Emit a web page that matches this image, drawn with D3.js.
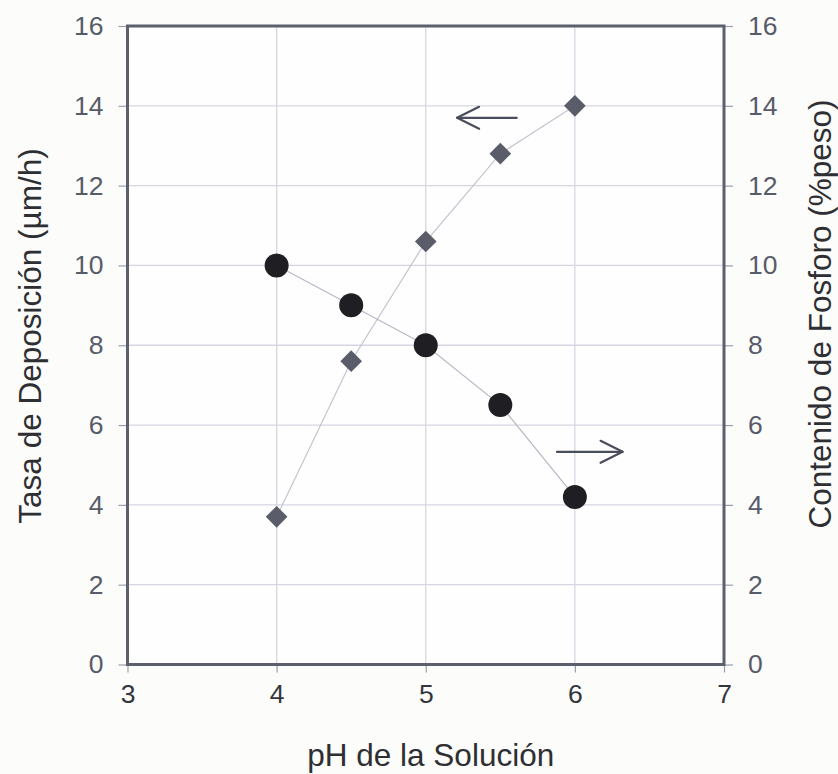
<!DOCTYPE html>
<html><head><meta charset="utf-8">
<script src="https://cdn.jsdelivr.net/npm/d3@7"></script>
<style>
html,body{margin:0;padding:0;background:#fcfcfa;}
svg{display:block;font-family:"Liberation Sans",Arial,Helvetica,sans-serif;}
</style></head>
<body><svg id="chart" width="838" height="774"></svg>
<script>
// ---- data ----
const pH = [4, 4.5, 5, 5.5, 6];
const tasaDeposicion = [3.7, 7.6, 10.6, 12.8, 14.0];      // left axis (diamonds)
const contenidoFosforo = [10.0, 9.0, 8.0, 6.5, 4.2];     // right axis (circles)
const xTicks = [3, 4, 5, 6, 7];
const yTicks = [0, 2, 4, 6, 8, 10, 12, 14, 16];
const xLabel = "pH de la Solución";
const yLeftLabel = "Tasa de Deposición (µm/h)";
const yRightLabel = "Contenido de Fosforo (%peso)";
// arrow annotations [x1, x2, y] in data units (x1 = tail, x2 = head)
const arrowLeft = [5.61, 5.21, 13.7];
const arrowRight = [5.88, 6.32, 5.33];

// ---- layout ----
const W = 838, H = 774;
const m = {left: 127.5, right: 114, top: 26, bottom: 109.5};
const svg = d3.select("#chart");
const x = d3.scaleLinear().domain([3, 7]).range([m.left, W - m.right]);
const yL = d3.scaleLinear().domain([0, 16]).range([H - m.bottom, m.top]);
const yR = d3.scaleLinear().domain([0, 16]).range([H - m.bottom, m.top]);

const gridColor = "#d6d6e2";
const frameColor = "#5c5f6c";
const tickTextColor = "#585b69";

// plot background
svg.append("rect").attr("x", x(3)).attr("y", yL(16))
  .attr("width", x(7) - x(3)).attr("height", yL(0) - yL(16)).attr("fill", "#fefefe");

// grid
const g = svg.append("g");
g.selectAll("line.h").data(yTicks.slice(1, -1)).join("line")
  .attr("x1", x(3)).attr("x2", x(7)).attr("y1", d => yL(d)).attr("y2", d => yL(d))
  .attr("stroke", gridColor).attr("stroke-width", 1.3);
g.selectAll("line.v").data(xTicks.slice(1, -1)).join("line")
  .attr("y1", yL(0)).attr("y2", yL(16)).attr("x1", d => x(d)).attr("x2", d => x(d))
  .attr("stroke", gridColor).attr("stroke-width", 1.3);

// axes
function styleAxis(sel) {
  sel.select(".domain").remove();
  sel.selectAll(".tick line").attr("stroke", "#9c9eae").attr("stroke-width", 1.2);
  sel.selectAll(".tick text").attr("fill", tickTextColor).attr("font-size", 26.5)
    .attr("font-family", '"Liberation Sans",Arial,sans-serif');
}
svg.append("g").attr("transform", `translate(${x(3)},0)`)
  .call(d3.axisLeft(yL).tickValues(yTicks).tickSize(9).tickPadding(15).tickFormat(d3.format("d")))
  .call(styleAxis);
svg.append("g").attr("transform", `translate(${x(7)},0)`)
  .call(d3.axisRight(yR).tickValues(yTicks).tickSize(9).tickPadding(15).tickFormat(d3.format("d")))
  .call(styleAxis);
const xa = svg.append("g").attr("transform", `translate(0,${yL(0)})`)
  .call(d3.axisBottom(x).tickValues(xTicks).tickSize(8).tickPadding(11).tickFormat(d3.format("d")))
  .call(styleAxis);
xa.selectAll(".tick text").attr("fill", "#34363d").attr("dy", "0.74em");

// frame
svg.append("rect").attr("x", x(3)).attr("y", yL(16))
  .attr("width", x(7) - x(3)).attr("height", yL(0) - yL(16))
  .attr("fill", "none").attr("stroke", frameColor).attr("stroke-width", 3);

// series lines
const lineL = d3.line().x((d, i) => x(pH[i])).y(d => yL(d));
const lineR = d3.line().x((d, i) => x(pH[i])).y(d => yR(d));
svg.append("path").attr("d", lineL(tasaDeposicion)).attr("fill", "none")
  .attr("stroke", "#c4c4d0").attr("stroke-width", 1.2);
svg.append("path").attr("d", lineR(contenidoFosforo)).attr("fill", "none")
  .attr("stroke", "#b8b8c6").attr("stroke-width", 1.2);

// diamonds
const diamond = d3.symbol().type(d3.symbolSquare).size(235);
svg.selectAll("path.dia").data(tasaDeposicion).join("path")
  .attr("d", diamond)
  .attr("transform", (d, i) => `translate(${x(pH[i])},${yL(d)}) rotate(45)`)
  .attr("fill", "#5a5d69");

// circles
svg.selectAll("circle.pt").data(contenidoFosforo).join("circle")
  .attr("cx", (d, i) => x(pH[i])).attr("cy", d => yR(d)).attr("r", 12)
  .attr("fill", "#1f1f23");

// arrows
function arrow(a) {
  const x1 = x(a[0]), x2 = x(a[1]), yy = yL(a[2]);
  const dir = Math.sign(x2 - x1);
  const grp = svg.append("g").attr("stroke", "#4a4d5a").attr("stroke-width", 2.2)
    .attr("fill", "none").attr("stroke-linecap", "round").attr("stroke-linejoin", "round");
  grp.append("line").attr("x1", x1).attr("x2", x2).attr("y1", yy).attr("y2", yy);
  grp.append("path").attr("d", `M${x2 - dir * 22},${yy - 11} L${x2},${yy} L${x2 - dir * 22},${yy + 11}`);
}
arrow(arrowLeft);
arrow(arrowRight);

// titles
svg.append("text").attr("x", (x(3) + x(7)) / 2 + 5).attr("y", 766)
  .attr("text-anchor", "middle").attr("font-size", 31.5).attr("fill", "#2e2f33").text(xLabel);
svg.append("text").attr("transform", `translate(41,336) rotate(-90)`)
  .attr("text-anchor", "middle").attr("font-size", 31.5).attr("fill", "#2e2f33").text(yLeftLabel);
svg.append("text").attr("transform", `translate(831,314) rotate(-90)`)
  .attr("text-anchor", "middle").attr("font-size", 31.5).attr("fill", "#2e2f33").text(yRightLabel);
</script></body></html>
